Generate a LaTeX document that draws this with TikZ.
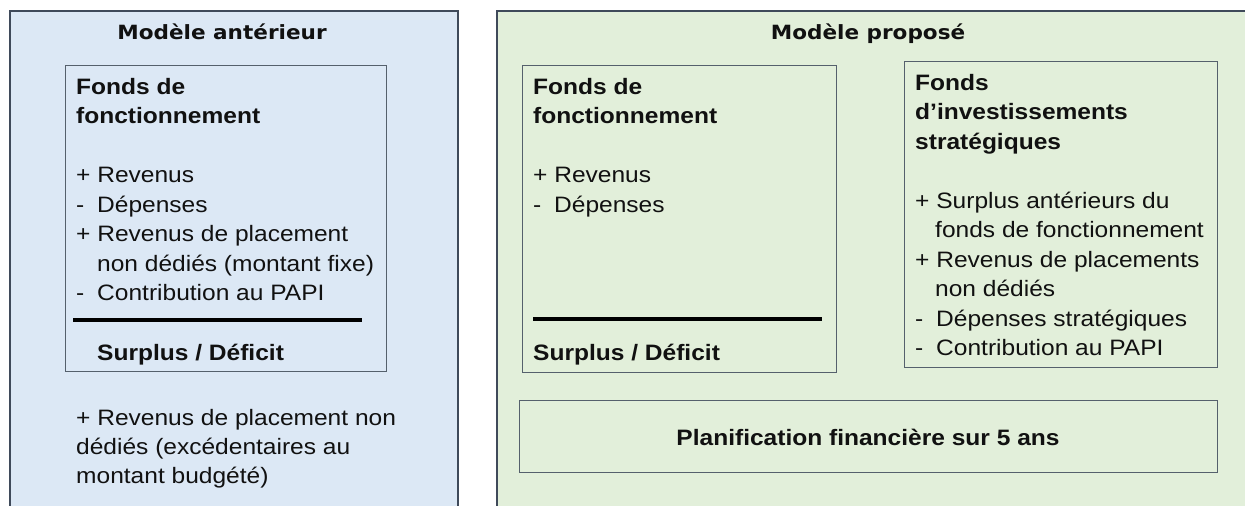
\documentclass[tikz,border=0pt]{standalone}
\usepackage{fontspec}
\setmainfont{Liberation Sans}[FakeStretch=1.1]
\newfontfamily\titlefont{DejaVu Sans}[FakeStretch=1.1]
\definecolor{bluefill}{HTML}{DCE8F5}
\definecolor{greenfill}{HTML}{E2EFDA}
\definecolor{outerline}{HTML}{3F4A5A}
\definecolor{innerline}{HTML}{55606C}
\definecolor{txt}{HTML}{111111}
\newcommand{\mi}{\makebox[21pt][l]{-}}
\newcommand{\ind}{\hspace*{21pt}}
\begin{document}
\begin{tikzpicture}[x=1pt,y=-1pt,
  panel/.style={draw=outerline, line width=1.6pt, anchor=north west, inner sep=0pt},
  fundbox/.style={draw=innerline, line width=1.3pt, anchor=north west, inner sep=0pt},
  titletxt/.style={font=\titlefont\bfseries\fontsize{19.6}{24}\selectfont, text=txt, anchor=base, inner sep=0pt},
  body/.style={font=\fontsize{22.3}{29.5}\selectfont, text=txt, anchor=base west, align=left, inner sep=0pt},
  boldbody/.style={body, font=\bfseries\fontsize{22.3}{29.5}\selectfont},
  rule/.style={line width=4pt, draw=black}]
\useasboundingbox (0,0) rectangle (1245,506);
\clip (0,0) rectangle (1245,506);
% panels
\node[panel, fill=bluefill, minimum width=448pt, minimum height=520pt] (lpanel) at (9,10) {};
\node[panel, fill=greenfill, minimum width=770pt, minimum height=520pt] (rpanel) at (496,10) {};
\node[titletxt] (ltitle) at (222,39) {Modèle antérieur};
\node[titletxt] (rtitle) at (868,39) {Modèle proposé};
% left inner box (multi-line nodes: base = last line's baseline)
\node[fundbox, minimum width=321pt, minimum height=306pt] (lbox) at (65,65) {};
\node[boldbody] (lhead) at (76,123.5) {Fonds de\\fonctionnement};
\node[body] (litems) at (76,300.5) {+ Revenus\\\mi Dépenses\\+ Revenus de placement\\\ind non dédiés (montant fixe)\\\mi Contribution au PAPI};
\coordinate (lrulea) at (73,320);
\coordinate (lruleb) at (362,320);
\draw[rule] (lrulea) -- (lruleb);
\node[boldbody] (lsurplus) at (97,360) {Surplus / Déficit};
\node[body, font=\fontsize{22.3}{29}\selectfont] (lextra) at (76,483) {+ Revenus de placement non\\dédiés (excédentaires au\\montant budgété)};
% right box A
\node[fundbox, minimum width=314pt, minimum height=307pt] (abox) at (522,65) {};
\node[boldbody] (ahead) at (533,123.5) {Fonds de\\fonctionnement};
\node[body] (aitems) at (533,212) {+ Revenus\\\mi Dépenses};
\coordinate (arulea) at (533,319);
\coordinate (aruleb) at (822,319);
\draw[rule] (arulea) -- (aruleb);
\node[boldbody] (asurplus) at (533,360) {Surplus / Déficit};
% right box B
\node[fundbox, minimum width=313pt, minimum height=306pt] (bbox) at (904,61) {};
\node[boldbody] (bhead) at (915,149) {Fonds\\d’investissements\\stratégiques};
\node[body] (bitems) at (915,355.5) {+ Surplus antérieurs du\\\hspace*{20pt}fonds de fonctionnement\\+ Revenus de placements\\\hspace*{20pt}non dédiés\\\mi Dépenses stratégiques\\\mi Contribution au PAPI};
% right box C
\node[fundbox, minimum width=698pt, minimum height=72pt] (cbox) at (519,400) {};
\node[boldbody, anchor=base] (cplan) at (868,445) {Planification financière sur 5 ans};
\end{tikzpicture}
\end{document}
